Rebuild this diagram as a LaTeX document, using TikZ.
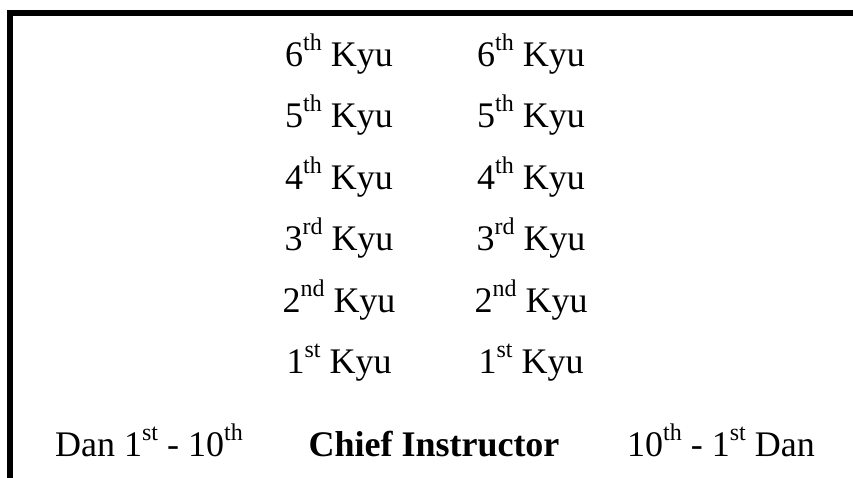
\documentclass[tikz,border=0pt]{standalone}
\usepackage{fontspec}
\setmainfont{Liberation Serif}
\newcommand\mysup[1]{\raisebox{16pt}{\fontsize{24}{24}\selectfont #1}}
\begin{document}
\begin{tikzpicture}[x=1pt,y=-1pt,
  lbl/.style={inner sep=0pt,anchor=base,font=\fontsize{36}{40}\selectfont},
  frame/.style={line width=6pt,line join=miter}]
\useasboundingbox (0,0) rectangle (853,478);
\coordinate (b) at (10,482);
\coordinate (c) at (10,13);
\coordinate (e) at (857,13);
\draw[frame] (b) -- (c) -- (e);
\node[lbl] (l6) at (339,67) {6\mysup{th} Kyu};
\node[lbl] (r6) at (531,67) {6\mysup{th} Kyu};
\node[lbl] (l5) at (339,128) {5\mysup{th} Kyu};
\node[lbl] (r5) at (531,128) {5\mysup{th} Kyu};
\node[lbl] (l4) at (339,190) {4\mysup{th} Kyu};
\node[lbl] (r4) at (531,190) {4\mysup{th} Kyu};
\node[lbl] (l3) at (339,251) {3\mysup{rd} Kyu};
\node[lbl] (r3) at (531,251) {3\mysup{rd} Kyu};
\node[lbl] (l2) at (339,312) {2\mysup{nd} Kyu};
\node[lbl] (r2) at (531,312) {2\mysup{nd} Kyu};
\node[lbl] (l1) at (339,373) {1\mysup{st} Kyu};
\node[lbl] (r1) at (531,373) {1\mysup{st} Kyu};
\node[lbl] (danl) at (149,456) {Dan 1\mysup{st} - 10\mysup{th}};
\node[lbl,font=\fontsize{36}{40}\selectfont\bfseries] (chief) at (434,456) {Chief Instructor};
\node[lbl] (danr) at (721,456) {10\mysup{th} - 1\mysup{st} Dan};
\end{tikzpicture}
\end{document}
